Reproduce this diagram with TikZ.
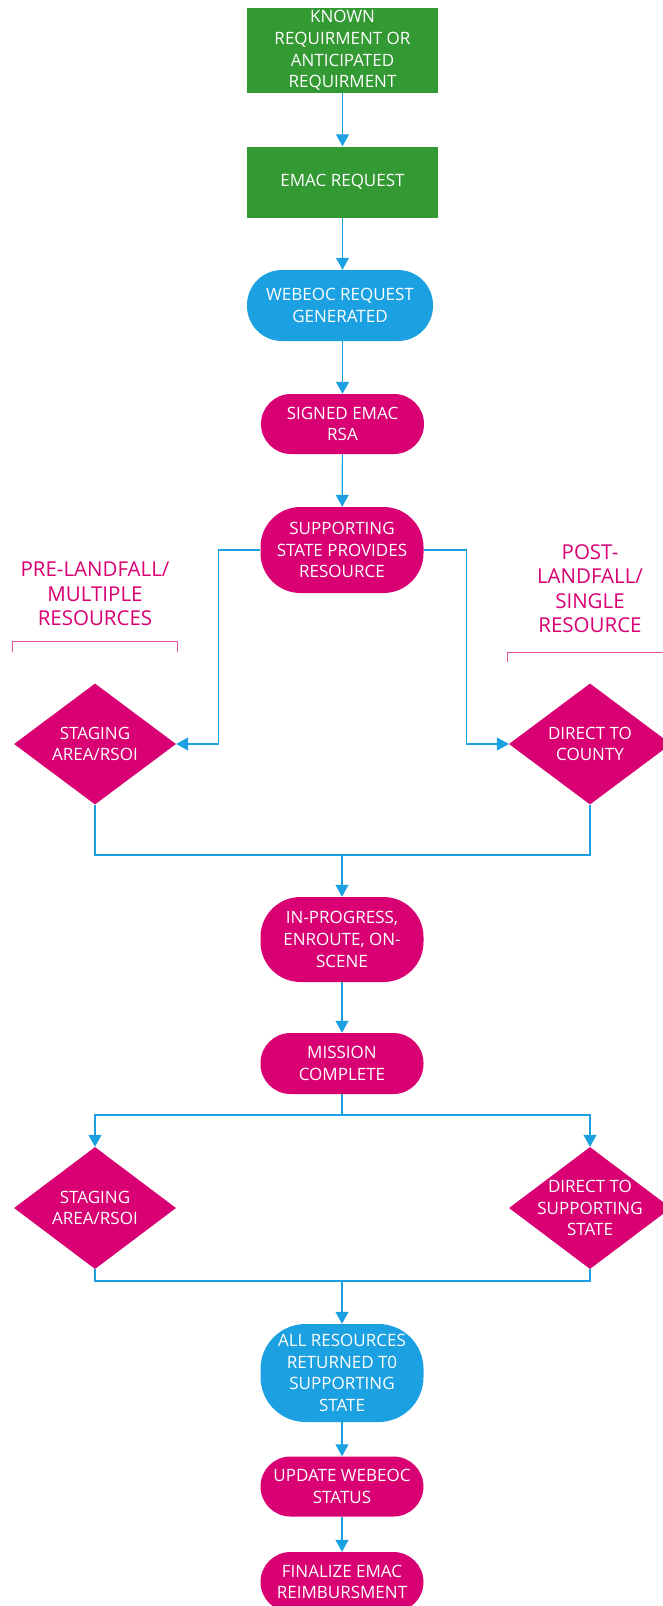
\documentclass[tikz,border=0pt]{standalone}
\usepackage{fontspec}
\setmainfont{Open Sans}
\usepackage{xcolor}
\usepackage{tikz}
\usetikzlibrary{arrows.meta, shapes.geometric}
\definecolor{mgreen}{HTML}{339933}
\definecolor{mblue}{HTML}{1BA1E2}
\definecolor{mpink}{HTML}{D80073}
\definecolor{lpink}{HTML}{E4529A}

\begin{document}
\begin{tikzpicture}[x=1pt, y=-1pt,
  boxtxt/.style={text=white, align=center, inner sep=0pt, font=\fontsize{17}{21.8}\selectfont},
  greenbox/.style={boxtxt, fill=mgreen, minimum width=191pt},
  bluebox/.style={boxtxt, fill=mblue, rounded corners=35pt},
  pinkbox/.style={boxtxt, fill=mpink, rounded corners=30pt, minimum width=163pt, minimum height=60pt},
  decision/.style={diamond, fill=mpink, inner sep=0pt, minimum width=162pt, minimum height=121pt},
  note/.style={text=mpink, align=center, font=\fontsize{20.5}{24.5}\selectfont},
  link/.style={draw=mblue, line width=1.2pt},
  arrow/.style={link, -{Triangle[width=13pt, length=12pt]}}]
\useasboundingbox (0,0) rectangle (662,1606);

\node[greenbox, minimum height=85pt] (known) at (342.5, 50.5) {KNOWN\\REQUIRMENT OR\\ANTICIPATED\\REQUIRMENT};
\node[greenbox, minimum height=71pt] (emac) at (342.5, 182) {EMAC REQUEST};
\node[bluebox, minimum width=186pt, minimum height=71pt] (webeoc) at (340, 305.5) {WEBEOC REQUEST\\GENERATED};
\node[pinkbox] (signed) at (342.5, 424) {SIGNED EMAC\\RSA};
\node[pinkbox, minimum height=86pt, rounded corners=40pt] (supporting) at (342, 550) {SUPPORTING\\STATE PROVIDES\\RESOURCE};

\node[note] (pre) at (95, 594) {PRE-LANDFALL/\\MULTIPLE\\RESOURCES};
\node[note] (post) at (590, 588.5) {POST-\\LANDFALL/\\SINGLE\\RESOURCE};
\draw[lpink, line width=0.9pt] (12,652) -- (12,641) -- (177,641) -- (177,652);
\draw[lpink, line width=0.9pt] (507,662) -- (507,652) -- (670,652);

\node[decision, label={[boxtxt]center:STAGING\\AREA/RSOI}] (stagingA) at (95, 744) {};
\node[decision, label={[boxtxt]center:DIRECT TO\\COUNTY}] (directA) at (590, 744) {};

\coordinate (merge1) at (342, 855);
\node[pinkbox, minimum height=85pt, rounded corners=40pt] (inprog) at (342, 939.5) {IN-PROGRESS,\\ENROUTE, ON-\\SCENE};
\node[pinkbox, minimum height=61pt] (mission) at (342, 1063.5) {MISSION\\COMPLETE};

\coordinate (split) at (342, 1115);
\node[decision, minimum height=122pt, label={[boxtxt]center:STAGING\\AREA/RSOI}] (stagingB) at (95, 1208) {};
\node[decision, minimum height=122pt, label={[boxtxt]center:DIRECT TO\\SUPPORTING\\STATE}] (directB) at (590, 1208) {};

\coordinate (merge2) at (342, 1281);
\node[bluebox, minimum width=163pt, minimum height=98pt, rounded corners=45pt] (allres) at (342, 1373) {ALL RESOURCES\\RETURNED T0\\SUPPORTING\\STATE};
\node[pinkbox] (update) at (342, 1486.5) {UPDATE WEBEOC\\STATUS};
\node[pinkbox] (finalize) at (342, 1582) {FINALIZE EMAC\\REIMBURSMENT};

\draw[arrow] (known) -- (emac);
\draw[arrow] (emac) -- (webeoc.north -| emac);
\draw[arrow] (webeoc.south -| signed) -- (signed);
\draw[arrow] (signed) -- (supporting);
\draw[arrow] (supporting.west) -- ++(-42,0) |- (stagingA.east);
\draw[arrow] (supporting.east) -- ++(43,0) |- (directA.west);
\draw[link] (stagingA.south) |- (merge1);
\draw[link] (directA.south) |- (merge1);
\draw[arrow] (merge1) -- (inprog);
\draw[arrow] (inprog) -- (mission);
\draw[link] (mission) -- (split);
\draw[arrow] (split) -| (stagingB.north);
\draw[arrow] (split) -| (directB.north);
\draw[link] (stagingB.south) |- (merge2);
\draw[link] (directB.south) |- (merge2);
\draw[arrow] (merge2) -- (allres);
\draw[arrow] (allres) -- (update);
\draw[arrow] (update) -- (finalize);
\end{tikzpicture}
\end{document}
